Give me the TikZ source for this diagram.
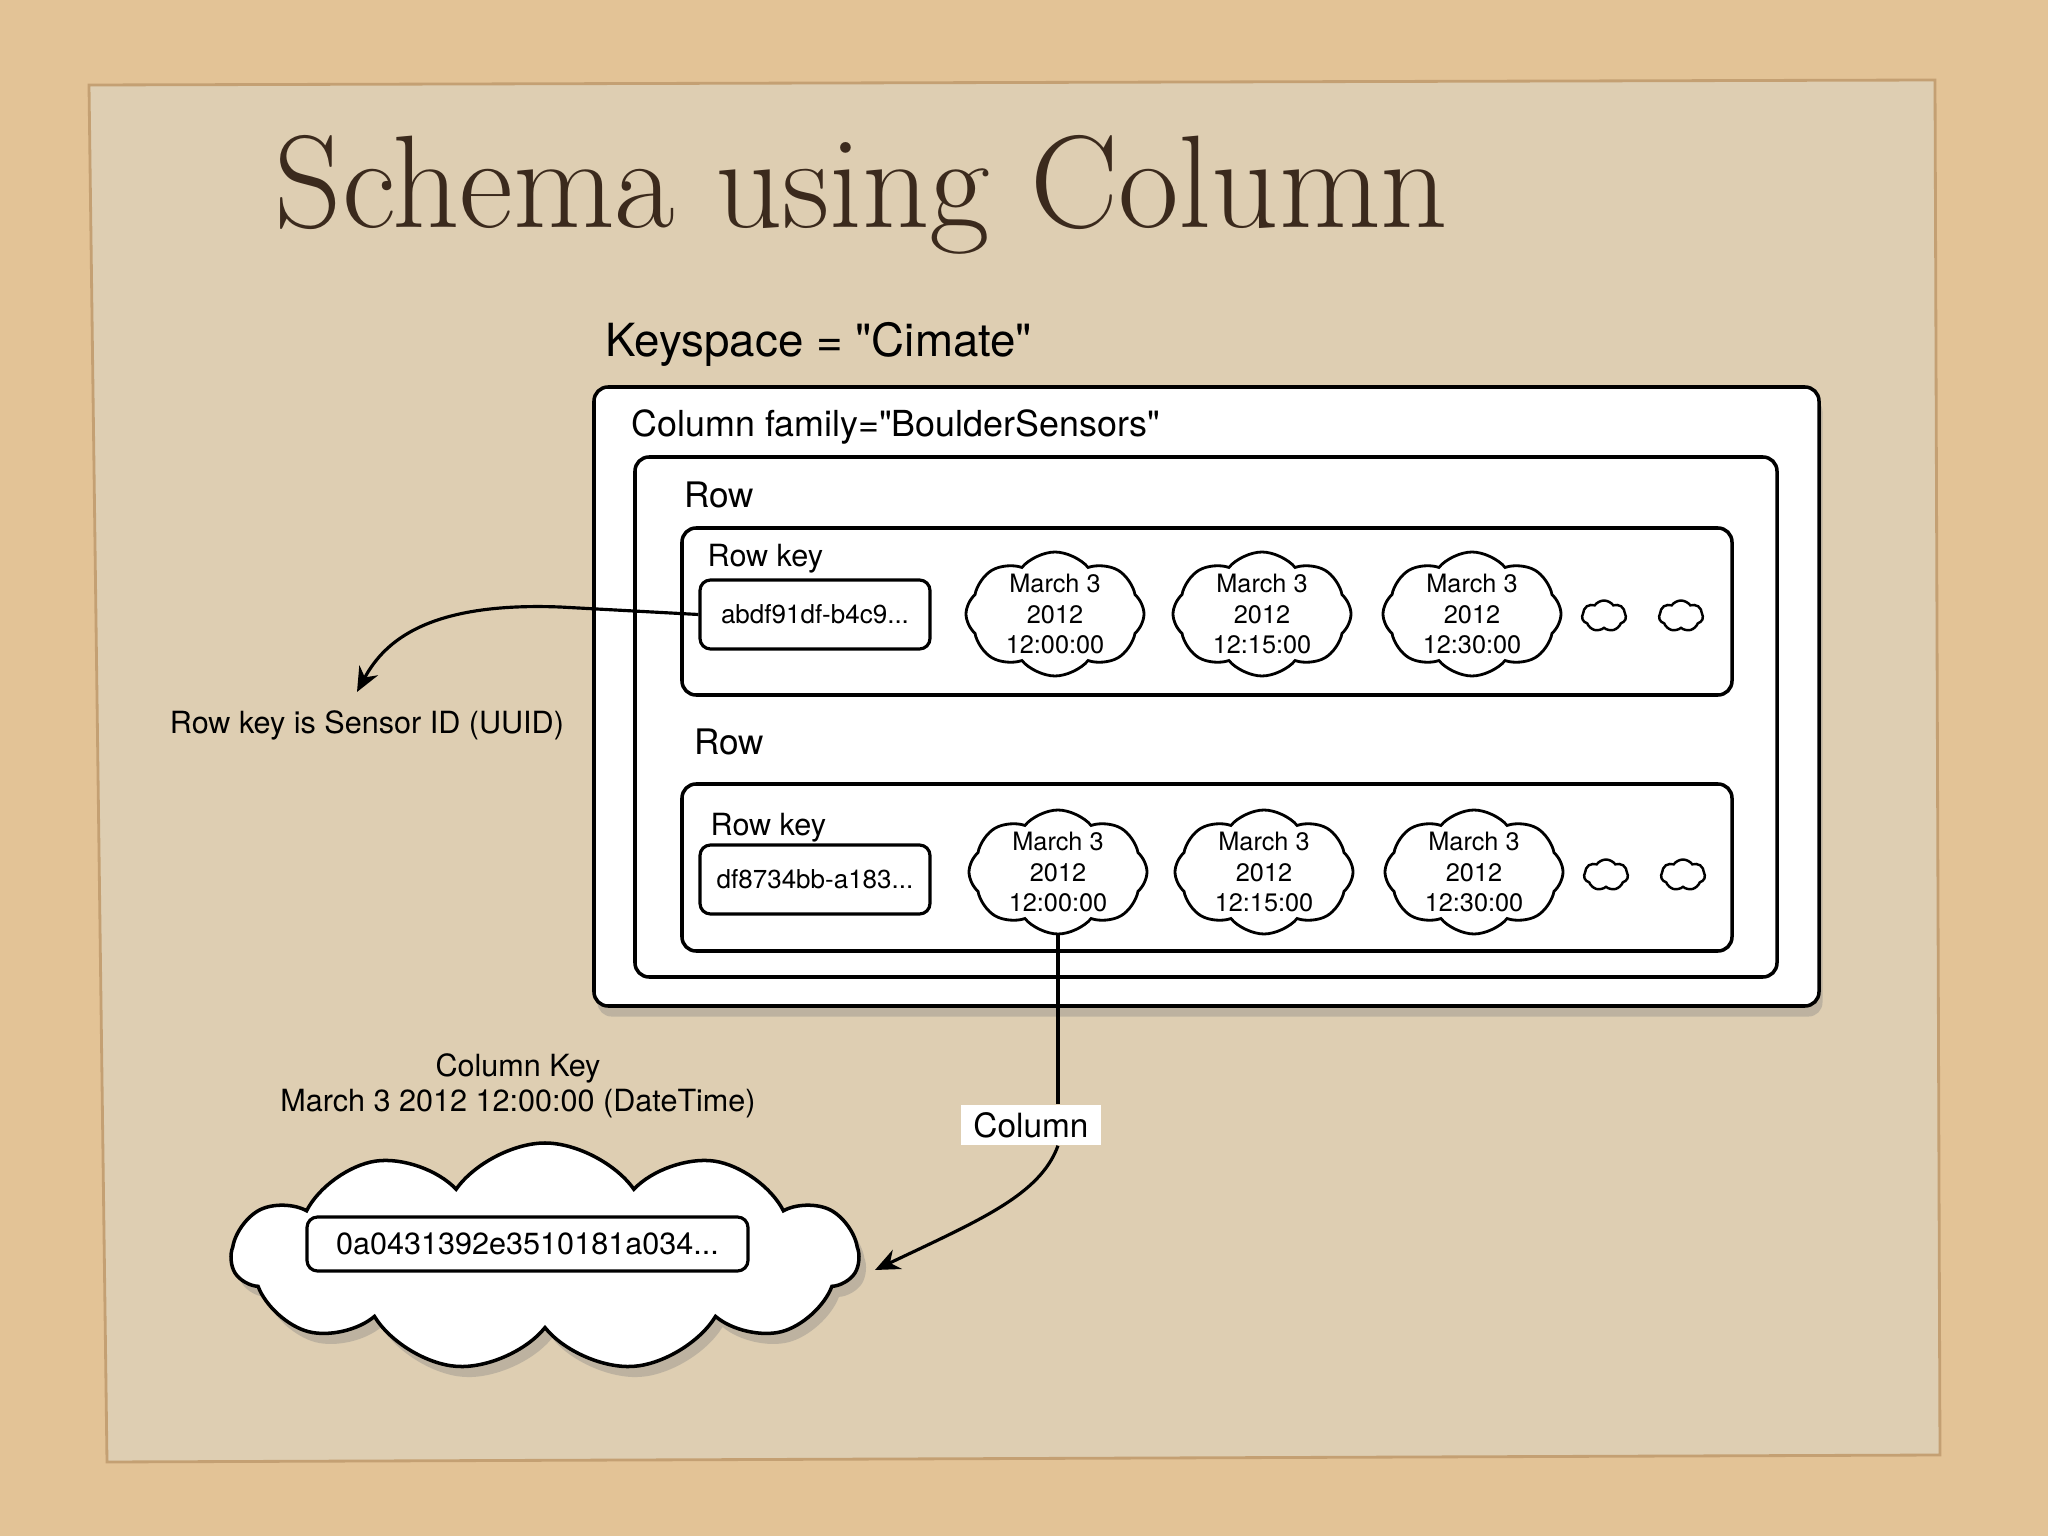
\documentclass[tikz,border=0pt]{standalone}
\usepackage{fontspec}
\setsansfont{TeX Gyre Heros}
\usetikzlibrary{arrows.meta,shapes.symbols,shadows,positioning}

\definecolor{sand}{RGB}{227,195,150}
\definecolor{paper}{RGB}{222,206,178}
\definecolor{paperedge}{RGB}{196,160,115}
\definecolor{inkbrown}{RGB}{59,42,29}

\tikzset{
  famBox/.style={rectangle,draw,fill=white,line width=1pt,rounded corners=4pt,
    drop shadow={shadow xshift=1pt,shadow yshift=-3pt,opacity=0.35}},
  rowBox/.style={rectangle,draw,fill=white,line width=1pt,rounded corners=4pt},
  keyBox/.style={rectangle,draw,fill=white,line width=0.9pt,rounded corners=3pt,
    minimum width=2.3cm,minimum height=0.69cm,font=\sffamily\fontsize{7.4}{9}\selectfont},
  tcloud/.style={cloud,cloud puffs=8,cloud puff arc=100,cloud ignores aspect,draw,fill=white,
    line width=0.8pt,inner sep=0pt,minimum width=1.78cm,minimum height=1.24cm},
  minicloud/.style={cloud,cloud puffs=7,cloud puff arc=110,cloud ignores aspect,draw,
    line width=0.7pt,inner sep=0pt,minimum width=0.44cm,minimum height=0.31cm},
  cloudtxt/.style={align=center,inner sep=0pt,font=\sffamily\fontsize{7.2}{8.8}\selectfont},
  lbl/.style={anchor=base west,inner sep=0pt,font=\sffamily\fontsize{10}{12}\selectfont},
  keylbl/.style={anchor=base west,inner sep=0pt,font=\sffamily\fontsize{8.7}{10.5}\selectfont},
  note/.style={align=center,font=\sffamily\fontsize{8.7}{10}\selectfont},
  link/.style={line width=0.9pt}
}

\begin{document}
\begin{tikzpicture}[>={Stealth[length=7pt,width=6pt]}]
  \useasboundingbox (0,0) rectangle (20.48,-15.36);
  \fill[sand] (0,0) rectangle (20.48,-15.36);
  \filldraw[fill=paper,draw=paperedge,line width=0.8pt] (0.89,-0.85) -- (19.35,-0.80) -- (19.40,-14.55) -- (1.07,-14.62) -- cycle;

  \node[anchor=base west,inner sep=0pt,text=inkbrown,font=\rmfamily\fontsize{37.5}{42}\selectfont] (title) at (2.74,-2.28) {Schema using Column};
  \node[anchor=base west,inner sep=0pt,font=\sffamily\fontsize{13}{15}\selectfont] (keyspace) at (6.05,-3.57) {Keyspace = \textquotedbl Cimate\textquotedbl};

  % column family
  \node[famBox,minimum width=12.25cm,minimum height=6.19cm] (family) at (12.065,-6.965) {};
  \node[lbl,font=\sffamily\fontsize{10.2}{12}\selectfont] (familyLbl) at (6.31,-4.37) {Column family=\textquotedbl BoulderSensors\textquotedbl};
  \node[rowBox,minimum width=11.42cm,minimum height=5.20cm] (rows) at (12.06,-7.17) {};

  % first row
  \node[lbl] (rowLblA) at (6.84,-5.07) {Row};
  \node[rowBox,minimum width=10.5cm,minimum height=1.67cm] (rowA) at (12.07,-6.115) {};
  \node[keylbl] (keyLblA) at (7.07,-5.67) {Row key};
  \node[keyBox] (keyA) at (8.15,-6.145) {abdf91df-b4c9...};
  \node[tcloud,label={[cloudtxt]center:{March 3\\2012\\12:00:00}}] (cA1) at (10.55,-6.14) {};
  \node[tcloud,label={[cloudtxt]center:{March 3\\2012\\12:15:00}}] (cA2) at (12.62,-6.14) {};
  \node[tcloud,label={[cloudtxt]center:{March 3\\2012\\12:30:00}}] (cA3) at (14.72,-6.14) {};
  \node[minicloud] (cA4) at (16.04,-6.16) {};
  \node[minicloud] (cA5) at (16.81,-6.16) {};

  % second row
  \node[lbl] (rowLblB) at (6.94,-7.55) {Row};
  \node[rowBox,minimum width=10.5cm,minimum height=1.67cm] (rowB) at (12.07,-8.675) {};
  \node[keylbl] (keyLblB) at (7.10,-8.36) {Row key};
  \node[keyBox] (keyB) at (8.15,-8.795) {df8734bb-a183...};
  \node[tcloud,label={[cloudtxt]center:{March 3\\2012\\12:00:00}}] (cB1) at (10.58,-8.72) {};
  \node[tcloud,label={[cloudtxt]center:{March 3\\2012\\12:15:00}}] (cB2) at (12.64,-8.72) {};
  \node[tcloud,label={[cloudtxt]center:{March 3\\2012\\12:30:00}}] (cB3) at (14.74,-8.72) {};
  \node[minicloud] (cB4) at (16.06,-8.75) {};
  \node[minicloud] (cB5) at (16.83,-8.75) {};

  % row key note
  \node[note,anchor=base] (sensor) at (3.67,-7.34) {Row key is Sensor ID (UUID)};
  \coordinate (sensorTip) at (3.57,-6.92);
  \draw[->,link] (keyA.west) -- (5.60,-6.07) .. controls (4.30,-6.02) and (3.85,-6.40) .. (sensorTip);

  % column value
  \node[note] (colKey) at (5.18,-10.86) {Column Key\\March 3 2012 12:00:00 (DateTime)};
  \node[cloud,cloud puffs=11,cloud puff arc=110,cloud ignores aspect,draw,fill=white,line width=1pt,
    minimum width=6.26cm,minimum height=2.28cm,
    drop shadow={shadow xshift=2pt,shadow yshift=-3pt,opacity=0.35}] (bigCloud) at (5.45,-12.57) {};
  \node[keyBox,minimum width=4.41cm,minimum height=0.54cm,font=\sffamily\fontsize{8.7}{10}\selectfont] (value) at (5.275,-12.44) {0a0431392e3510181a034...};

  \node[fill=white,minimum width=1.40cm,minimum height=0.40cm,inner sep=1pt,font=\sffamily\fontsize{9.5}{11}\selectfont] (colLbl) at (10.31,-11.25) {Column};
  \coordinate (valTip) at (8.75,-12.70);
  \draw[link] (cB1.south) -- (cB1.south |- colLbl.north);
  \draw[->,link] (cB1.south |- colLbl.south) .. controls (10.40,-11.95) and (9.80,-12.20) .. (valTip);
\end{tikzpicture}
\end{document}
